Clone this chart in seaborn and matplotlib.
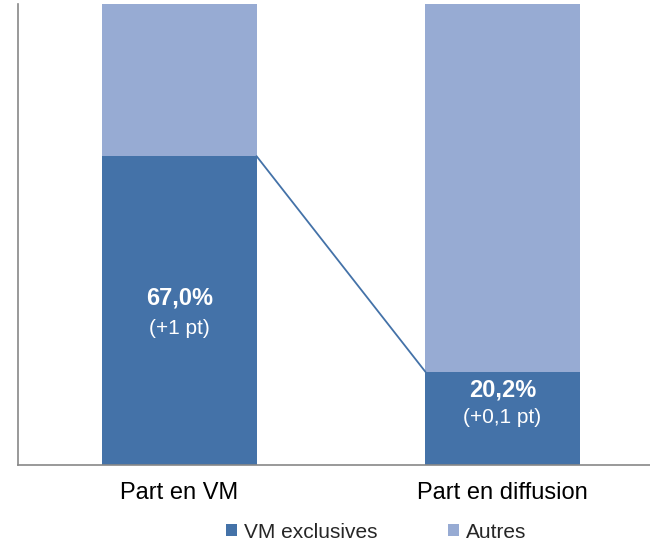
import numpy as np
import pandas as pd
import matplotlib
matplotlib.use('Agg')
import matplotlib.pyplot as plt
import seaborn as sb
from matplotlib.patches import Patch

# data
categories = ['Part en VM', 'Part en diffusion']
exclusives = [67.0, 20.2]
autres = [33.0, 79.8]
main_labels = ['67,0%', '20,2%']
sub_labels = ['(+1 pt)', '(+0,1 pt)']
legend_names = ['VM exclusives', 'Autres']

dark = '#4472A8'
light = '#97ABD3'
bar_w = 0.477

sb.set_style('white')
plt.rcParams['font.family'] = ['Liberation Sans', 'DejaVu Sans']

df = pd.DataFrame({'cat': categories, 'excl': exclusives,
                   'total': np.array(exclusives) + np.array(autres)})

fig = plt.figure(figsize=(6.5, 5.46), dpi=100)
ax = fig.add_axes([18 / 650, 81 / 546, 646 / 650, 461 / 546])

# light bar = full stack, dark bar on top of it
sb.barplot(data=df, x='cat', y='total', color=light, width=bar_w,
           saturation=1, ax=ax, linewidth=0)
sb.barplot(data=df, x='cat', y='excl', color=dark, width=bar_w,
           saturation=1, ax=ax, linewidth=0)

# connector line between the dark segments
ax.plot([0 + bar_w / 2, 1 - bar_w / 2], [exclusives[0], exclusives[1]],
        color=dark, lw=1.3, zorder=3)

for i, (v, m, s) in enumerate(zip(exclusives, main_labels, sub_labels)):
    if v > 50:
        y_m, y_s = v - 30.8, v - 37.3
    else:
        y_m, y_s = v - 4, v - 10
    ax.text(i, y_m, m, ha='center', va='center', color='white',
            fontsize=17, fontweight='bold')
    ax.text(i, y_s, s, ha='center', va='center', color='white', fontsize=15)

ax.set_xlim(-0.5, 1.5)
ax.set_ylim(0, 100)
ax.set_xlabel('')
ax.set_ylabel('')
ax.set_yticks([])
ax.set_xticks([0, 1])
ax.set_xticklabels(categories, fontsize=17, color='black')
ax.set_xticks([-0.5, 0.5, 1.5], minor=True)
ax.tick_params(axis='x', which='major', length=0, pad=12)
ax.tick_params(axis='x', which='minor', length=6, width=1, color='#888888')

for side in ['top', 'right']:
    ax.spines[side].set_visible(False)
for side in ['left', 'bottom']:
    ax.spines[side].set_color('#888888')
    ax.spines[side].set_linewidth(1.2)

handles = [Patch(facecolor=dark, edgecolor='none'),
           Patch(facecolor=light, edgecolor='none')]
fig.legend(handles, legend_names, loc='center',
           bbox_to_anchor=(376 / 650, 14 / 546), ncol=2, frameon=False,
           fontsize=15, handlelength=0.55, handleheight=0.55,
           handletextpad=0.3, columnspacing=3.4)

plt.savefig('out.png', dpi=100)
